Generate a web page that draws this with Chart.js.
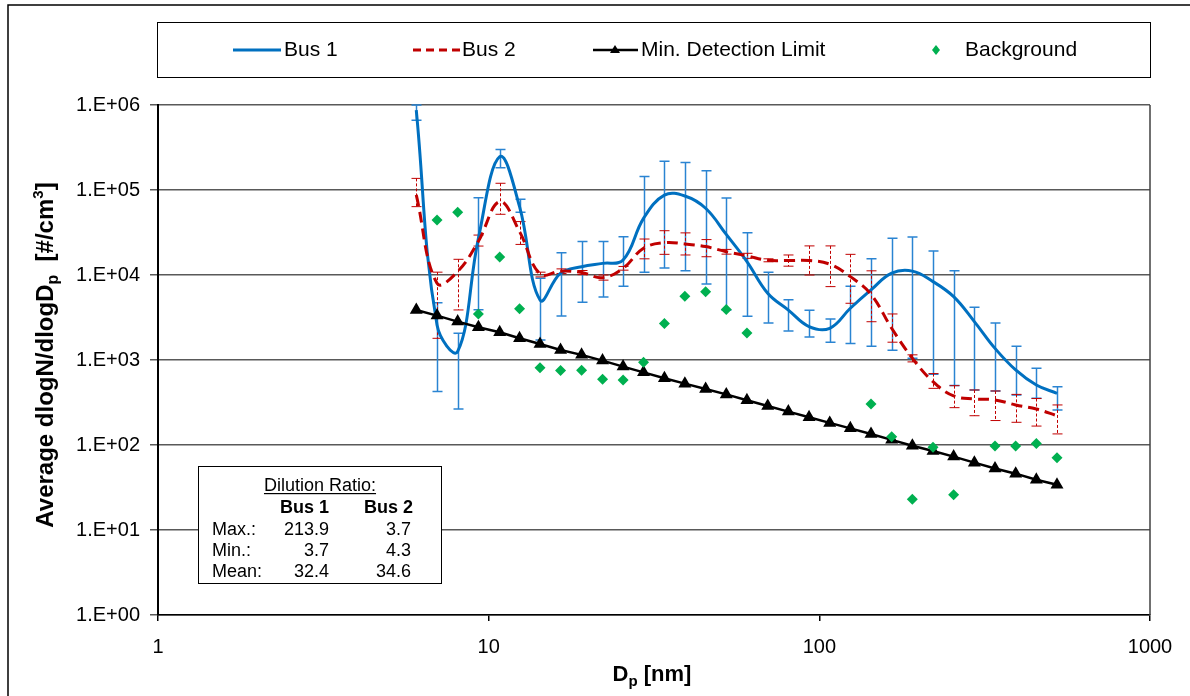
<!DOCTYPE html>
<html>
<head>
<meta charset="utf-8">
<script src="https://cdn.jsdelivr.net/npm/chart.js@4/dist/chart.umd.min.js"></script>
<style>
  html, body { margin: 0; padding: 0; background: #fff; }
  #wrap { width: 1190px; height: 696px; }
</style>
</head>
<body>
<div id="wrap"><canvas id="chart" width="1190" height="696"></canvas></div>
<script>
// particle diameter of each size channel [nm]
const diameters = [6.04, 6.98, 8.06, 9.31, 10.8, 12.4, 14.3, 16.5, 19.1, 22.1, 25.5, 29.4, 34.0, 39.2, 45.3, 52.3,
                   60.4, 69.8, 80.6, 93.1, 107.5, 124.1, 143.3, 165.5, 191.1, 220.7, 254.8, 294.3, 339.8, 392.4, 453.2, 523.3];

// Bus 1 average and error bar ends
const bus1 = [870000, 2580, 1260, 27000, 247000, 63700, 5080, 10500, 12500, 13700, 15000, 46400, 87000, 85000, 61000, 30000,
              14400, 6100, 3870, 2470, 2360, 4060, 6670, 10500, 11100, 8360, 5560, 2830, 1370, 764, 508, 405];
const bus1High = [1000000, 4700, 2060, 81000, 300000, 77800, 9140, 18300, 24700, 24700, 28200, 144000, 218000, 210000, 169000, 80500,
                  31500, 10800, 5130, 3850, 3040, 7360, 15500, 27000, 28000, 19200, 11200, 4170, 2730, 1450, 798, 486];
const bus1Low = [660000, 425, 265, 3900, 183000, 54700, 1720, 3300, 4770, 5520, 7360, 10800, 12100, 11200, 7830, 3870,
                 3270, 2730, 2200, 1870, 1620, 1560, 1450, 1300, 1050, 680, 500, 444, 432, 388, 354, 258];

// Bus 2 average and error bar ends
const bus2 = [87500, 7980, 11000, 25000, 73000, 32400, 10300, 11100, 10700, 9310, 12000, 20600, 24000, 23200, 21600, 18800,
              16800, 14900, 14800, 14800, 13400, 9570, 5930, 2360, 1050, 556, 378, 348, 339, 296, 265, 221];
const bus2High = [137000, 10800, 15300, 29500, 120000, 42500, 10800, 11800, 11300, 10000, 12600, 26500, 33200, 31300, 26100, 20000,
                  18000, 15500, 17200, 22000, 22000, 17500, 11200, 3480, 1150, 692, 499, 444, 432, 394, 352, 296];
const bus2Low = [63700, 1800, 3880, 21900, 51800, 22900, 9500, 10400, 10100, 8700, 11400, 15500, 17500, 17200, 16400, 17600,
                 15700, 14300, 12700, 10000, 7300, 4650, 2820, 1620, 950, 464, 275, 221, 194, 185, 167, 135];

// minimum detection limit of the instrument
const minDetection = [3880, 3330, 2830, 2430, 2120, 1800, 1540, 1310, 1150, 984, 836, 716, 610, 527, 456, 394,
                      336, 288, 247, 212, 182, 157, 135, 115, 98, 85, 73, 62, 53, 46, 39, 34];

// background measurement (null = not shown on log axis)
const background = [null, 44400, 54700, 3480, 16300, 4020, 813, 750, 757, 593, 582, 940, 2680, 5610, 6370, 3920,
                    2080, null, null, null, null, null, 304, 125, 23, 94, 26, null, 97.5, 97.5, 104, 71];

const xTicks = [1, 10, 100, 1000];
const xTickLabels = ['1', '10', '100', '1000'];
const yTicks = [1, 10, 100, 1000, 10000, 100000, 1000000];
const yTickLabels = ['1.E+00', '1.E+01', '1.E+02', '1.E+03', '1.E+04', '1.E+05', '1.E+06'];

// dilution ratio table
const dilutionRows = ['Max.:', 'Min.:', 'Mean:'];
const dilutionBus1 = ['213.9', '3.7', '32.4'];
const dilutionBus2 = ['3.7', '4.3', '34.6'];

const FONT = '"Liberation Sans", Arial, sans-serif';

function pts(values) {
  return diameters.map((d, i) => ({ x: d, y: values[i] }));
}

// draws text pieces one after another (for sub/superscripts)
function drawParts(ctx, parts, x, y) {
  let total = 0;
  parts.forEach(p => { ctx.font = p.font; total += ctx.measureText(p.text).width; });
  let cx = x - total / 2;
  parts.forEach(p => {
    ctx.font = p.font;
    ctx.fillText(p.text, cx, y + (p.dy || 0));
    cx += ctx.measureText(p.text).width;
  });
}

function drawBars(ctx, xs, ys, high, low, color, width, dash) {
  ctx.strokeStyle = color;
  ctx.lineWidth = width;
  diameters.forEach((d, i) => {
    const px = Math.round(xs.getPixelForValue(d)) + 0.5;
    const top = ys.getPixelForValue(high[i]);
    const bot = ys.getPixelForValue(low[i]);
    ctx.setLineDash(dash);
    ctx.beginPath();
    ctx.moveTo(px, top);
    ctx.lineTo(px, bot);
    ctx.stroke();
    ctx.setLineDash([]);
    ctx.beginPath();
    ctx.moveTo(px - 5, top); ctx.lineTo(px + 5, top);
    ctx.moveTo(px - 5, bot); ctx.lineTo(px + 5, bot);
    ctx.stroke();
  });
}

const errorBars = {
  id: 'errorBars',
  beforeDatasetsDraw(chart) {
    const { ctx, chartArea: a, scales: { x, y } } = chart;
    ctx.save();
    ctx.beginPath();
    ctx.rect(a.left, a.top - 3, a.right - a.left, a.bottom - a.top + 3);
    ctx.clip();
    drawBars(ctx, x, y, bus1High, bus1Low, '#2A84D2', 1.5, []);
    drawBars(ctx, x, y, bus2High, bus2Low, '#C00000', 1, [3, 2]);
    ctx.restore();
  }
};

const decorations = {
  id: 'decorations',
  beforeDraw(chart) {
    const { ctx } = chart;
    ctx.save();
    ctx.fillStyle = '#fff';
    ctx.fillRect(0, 0, chart.width, chart.height);
    // outer frame
    ctx.strokeStyle = '#000';
    ctx.lineWidth = 1.5;
    ctx.beginPath();
    ctx.moveTo(8, 696); ctx.lineTo(8, 5); ctx.lineTo(1190, 5);
    ctx.stroke();
    ctx.restore();
  },
  afterDraw(chart) {
    const { ctx, chartArea: a } = chart;
    const ds = chart.data.datasets;
    ctx.save();

    // plot area right edge
    ctx.strokeStyle = '#404040';
    ctx.lineWidth = 1.5;
    ctx.beginPath();
    ctx.moveTo(a.right, a.top); ctx.lineTo(a.right, a.bottom);
    ctx.stroke();

    // legend box
    ctx.strokeStyle = '#000';
    ctx.lineWidth = 1;
    ctx.strokeRect(157.5, 22.5, 993, 55);
    ctx.fillStyle = '#000';
    ctx.textBaseline = 'middle';
    ctx.textAlign = 'left';
    ctx.font = '21px ' + FONT;
    const ly = 50;
    // Bus 1
    ctx.strokeStyle = ds[0].borderColor; ctx.lineWidth = 3;
    ctx.beginPath(); ctx.moveTo(233, ly); ctx.lineTo(281, ly); ctx.stroke();
    ctx.fillText(ds[0].label, 284, ly);
    // Bus 2
    ctx.strokeStyle = ds[1].borderColor; ctx.setLineDash([8, 5]);
    ctx.beginPath(); ctx.moveTo(413, ly); ctx.lineTo(460, ly); ctx.stroke();
    ctx.setLineDash([]);
    ctx.fillText(ds[1].label, 462, ly);
    // Min. detection limit
    ctx.strokeStyle = ds[2].borderColor; ctx.lineWidth = 2.5;
    ctx.beginPath(); ctx.moveTo(593, ly); ctx.lineTo(638, ly); ctx.stroke();
    ctx.fillStyle = '#000';
    ctx.beginPath();
    ctx.moveTo(615, ly - 5); ctx.lineTo(620, ly + 3); ctx.lineTo(610, ly + 3); ctx.closePath(); ctx.fill();
    ctx.fillText(ds[2].label, 641, ly);
    // Background
    ctx.fillStyle = ds[3].backgroundColor;
    ctx.beginPath();
    ctx.moveTo(936, ly - 5); ctx.lineTo(940, ly); ctx.lineTo(936, ly + 5); ctx.lineTo(932, ly); ctx.closePath(); ctx.fill();
    ctx.fillStyle = '#000';
    ctx.fillText(ds[3].label, 965, ly);

    // axis titles
    ctx.textBaseline = 'alphabetic';
    ctx.fillStyle = '#000';
    const b22 = 'bold 22px ' + FONT, b15 = 'bold 15px ' + FONT;
    drawParts(ctx, [
      { text: 'D', font: b22 }, { text: 'p', font: b15, dy: 5 }, { text: ' [nm]', font: b22 }
    ], 652, 681);
    const b24 = 'bold 24px ' + FONT, b16 = 'bold 16px ' + FONT;
    ctx.save();
    ctx.translate(53, 355);
    ctx.rotate(-Math.PI / 2);
    drawParts(ctx, [
      { text: 'Average dlogN/dlogD', font: b24 }, { text: 'p', font: b16, dy: 5 },
      { text: '  [#/cm', font: b24 }, { text: '3', font: b15, dy: -10 }, { text: ']', font: b24 }
    ], 0, 0);
    ctx.restore();

    // dilution ratio box
    ctx.fillStyle = '#fff';
    ctx.fillRect(198, 466, 243, 117);
    ctx.strokeStyle = '#000';
    ctx.lineWidth = 1;
    ctx.strokeRect(198.5, 466.5, 243, 117);
    ctx.fillStyle = '#000';
    ctx.font = '18px ' + FONT;
    ctx.textAlign = 'center';
    ctx.fillText('Dilution Ratio:', 320, 491);
    const tw = ctx.measureText('Dilution Ratio:').width;
    ctx.fillRect(320 - tw / 2, 493, tw, 1.2);
    ctx.font = 'bold 18px ' + FONT;
    ctx.textAlign = 'right';
    ctx.fillText('Bus 1', 329, 513);
    ctx.fillText('Bus 2', 413, 513);
    ctx.font = '18px ' + FONT;
    dilutionRows.forEach((r, i) => {
      const by = 535 + i * 21;
      ctx.textAlign = 'left';
      ctx.fillText(r, 212, by);
      ctx.textAlign = 'right';
      ctx.fillText(dilutionBus1[i], 329, by);
      ctx.fillText(dilutionBus2[i], 411, by);
    });
    ctx.restore();
  }
};

const ctx = document.getElementById('chart').getContext('2d');
const chart = new Chart(ctx, {
  type: 'line',
  data: {
    datasets: [
      {
        label: 'Bus 1',
        data: pts(bus1),
        borderColor: '#0070C0',
        borderWidth: 3,
        pointRadius: 0,
        tension: 0.4,
        order: 3
      },
      {
        label: 'Bus 2',
        data: pts(bus2),
        borderColor: '#C00000',
        borderWidth: 3,
        borderDash: [11, 6],
        pointRadius: 0,
        tension: 0.4,
        order: 2
      },
      {
        label: 'Min. Detection Limit',
        data: pts(minDetection),
        borderColor: '#000',
        backgroundColor: '#000',
        borderWidth: 2.5,
        pointStyle: 'triangle',
        pointRadius: 5,
        tension: 0,
        order: 1
      },
      {
        label: 'Background',
        data: pts(background),
        showLine: false,
        borderColor: '#00B050',
        backgroundColor: '#00B050',
        pointStyle: 'rectRot',
        pointRadius: 5.5,
        pointBorderWidth: 0,
        order: 0
      }
    ]
  },
  options: {
    responsive: false,
    animation: false,
    devicePixelRatio: 1,
    layout: { padding: { left: 8, top: 105, right: 40, bottom: 6 } },
    plugins: {
      legend: { display: false },
      tooltip: { enabled: false }
    },
    scales: {
      x: {
        type: 'logarithmic',
        min: 1,
        max: 1000,
        afterBuildTicks: scale => { scale.ticks = xTicks.map(v => ({ value: v })); },
        afterFit: scale => { scale.height = 75; },
        ticks: {
          autoSkip: false,
          maxRotation: 0,
          padding: 14,
          color: '#000',
          font: { family: FONT, size: 20 },
          callback: (v, i) => xTickLabels[i]
        },
        grid: { drawOnChartArea: false, tickLength: 6, color: '#000', lineWidth: 1.5 },
        border: { color: '#000', width: 1.5 }
      },
      y: {
        type: 'logarithmic',
        min: 1,
        max: 1000000,
        afterBuildTicks: scale => { scale.ticks = yTicks.map(v => ({ value: v })); },
        afterFit: scale => { scale.width = 150; },
        ticks: {
          autoSkip: false,
          padding: 10,
          color: '#000',
          font: { family: FONT, size: 20 },
          callback: (v, i) => yTickLabels[i]
        },
        grid: { color: '#595959', lineWidth: 1.5, tickLength: 8 },
        border: { color: '#000', width: 2 }
      }
    }
  },
  plugins: [decorations, errorBars]
});
</script>
</body>
</html>
